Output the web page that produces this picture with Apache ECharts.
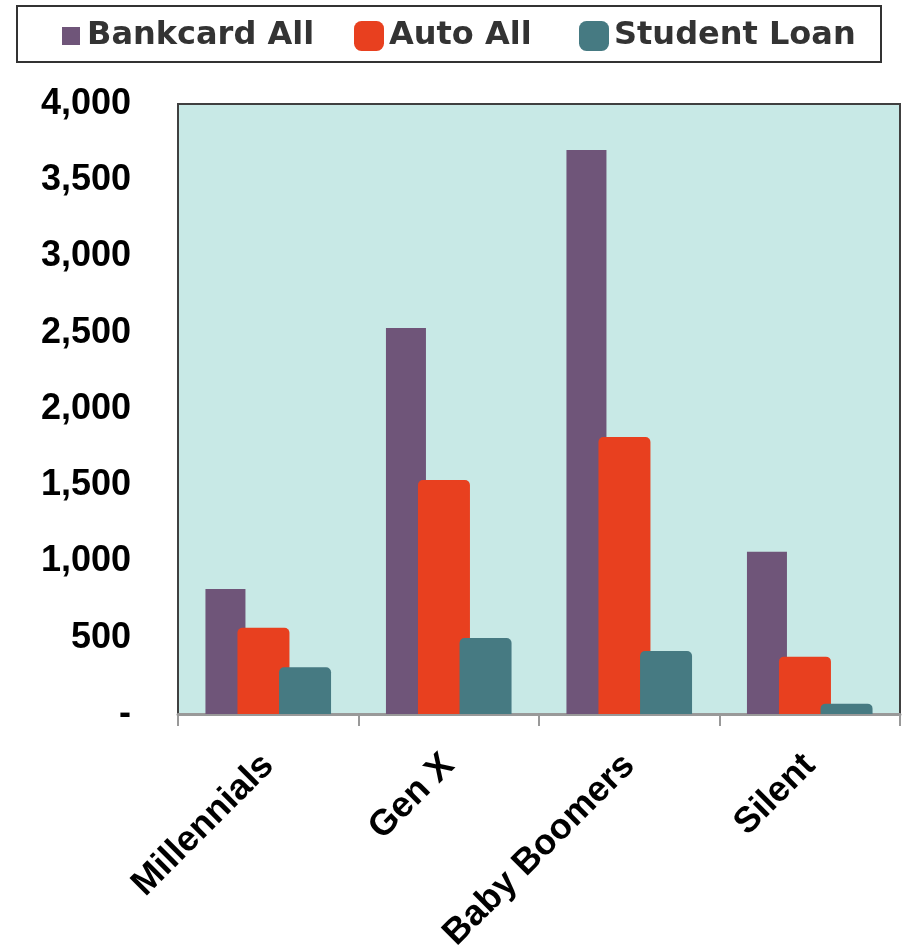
<!DOCTYPE html>
<html><head><meta charset="utf-8">
<script src="https://cdn.jsdelivr.net/npm/echarts@6/dist/echarts.min.js"></script>
<style>html,body{margin:0;padding:0;background:#fff}#c{width:904px;height:946px}</style>
</head><body><div id="c"></div>
<script>
const categories = ['Millennials', 'Gen X', 'Baby Boomers', 'Silent'];
const bankcardAll = [820, 2531, 3698, 1064];
const autoAll = [566, 1534, 1816, 376];
const studentLoan = [306, 498, 413, 68];
const yTicks = [0, 500, 1000, 1500, 2000, 2500, 3000, 3500, 4000];

const chart = echarts.init(document.getElementById('c'));
const legendText = {fontFamily: 'DejaVu Sans', fontWeight: 'bold', fontSize: 32, color: '#333'};
const axisFont = {fontFamily: 'Liberation Sans', fontWeight: 'bold', fontSize: 36, color: '#000'};
chart.setOption({
  animation: false,
  graphic: [{type: 'rect', shape: {x: 17, y: 6, width: 864, height: 56}, style: {fill: 'none', stroke: '#333', lineWidth: 2}}],
  legend: [
    {data: [{name: 'Bankcard All', icon: 'path://M0,0 M10,6 L28,6 L28,24 L10,24 Z M30,30'}], left: 52, top: 20, itemWidth: 30, itemHeight: 30, selectedMode: false, textStyle: legendText, padding: 0},
    {data: [{name: 'Auto All', icon: 'roundRect'}], left: 354, top: 20, itemWidth: 30, itemHeight: 30, selectedMode: false, textStyle: legendText, padding: 0},
    {data: [{name: 'Student Loan', icon: 'roundRect'}], left: 579, top: 20, itemWidth: 30, itemHeight: 30, selectedMode: false, textStyle: legendText, padding: 0}
  ],
  grid: {left: 178, right: 4, top: 104, bottom: 232, outerBoundsMode: 'none', containLabel: false, show: true, backgroundColor: '#c8e9e6', borderColor: '#404040', borderWidth: 2},
  xAxis: {
    type: 'category', data: categories,
    axisLine: {lineStyle: {color: '#999', width: 3}},
    axisTick: {show: true, length: 12, lineStyle: {color: '#999', width: 2}},
    axisLabel: Object.assign({rotate: 45, margin: 46, interval: 0}, axisFont)
  },
  yAxis: {
    type: 'value', min: 0, max: 4000, interval: 500,
    axisLine: {show: false}, axisTick: {show: false}, splitLine: {show: false},
    axisLabel: Object.assign({margin: 47, formatter: v => v === 0 ? '-' : v.toLocaleString('en-US')}, axisFont)
  },
  series: [
    {name: 'Bankcard All', type: 'bar', data: bankcardAll, barWidth: 40, barGap: '-20%', itemStyle: {color: '#6f5579'}},
    {name: 'Auto All', type: 'bar', data: autoAll, barWidth: 52, barGap: '-20%', itemStyle: {color: '#e8401f', borderRadius: [5, 5, 0, 0]}},
    {name: 'Student Loan', type: 'bar', data: studentLoan, barWidth: 52, barGap: '-20%', itemStyle: {color: '#467a82', borderRadius: [5, 5, 0, 0]}}
  ]
});
</script></body></html>
